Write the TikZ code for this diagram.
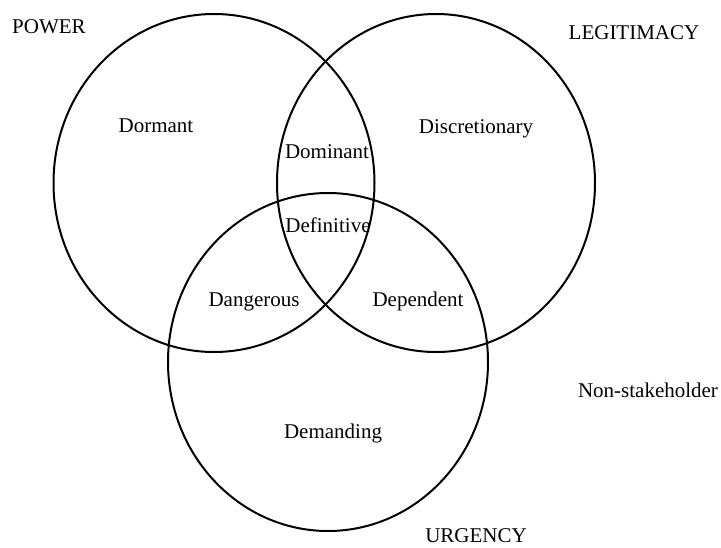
\documentclass[tikz,border=0pt]{standalone}
\usepackage{fontspec}
\setmainfont{Liberation Serif}
\begin{document}
\begin{tikzpicture}[x=1pt,y=-1pt,
  setline/.style={line width=2pt,draw=black},
  lbl/.style={anchor=base,inner sep=0pt,font=\fontsize{21}{25}\selectfont}]
\useasboundingbox (0,0) rectangle (721,547);
% the three attribute sets
\draw[setline] (214,183) ellipse [x radius=160.5, y radius=169];
\draw[setline] (436,183) ellipse [x radius=159, y radius=169];
\draw[setline] (328,362) ellipse [x radius=160, y radius=169];
% set names
\node[lbl] (power) at (49,33) {POWER};
\node[lbl] (legit) at (634,39) {LEGITIMACY};
\node[lbl] (urgency) at (476,542) {URGENCY};
\node[lbl] (nonst) at (648,397) {Non-stakeholder};
% stakeholder classes
\node[lbl] (dormant) at (156,132) {Dormant};
\node[lbl] (discr) at (476,133) {Discretionary};
\node[lbl] (dominant) at (327,158) {Dominant};
\node[lbl] (definitive) at (328,232) {Definitive};
\node[lbl] (dangerous) at (254,306) {Dangerous};
\node[lbl] (dependent) at (418,306) {Dependent};
\node[lbl] (demanding) at (333,438) {Demanding};
\end{tikzpicture}
\end{document}
